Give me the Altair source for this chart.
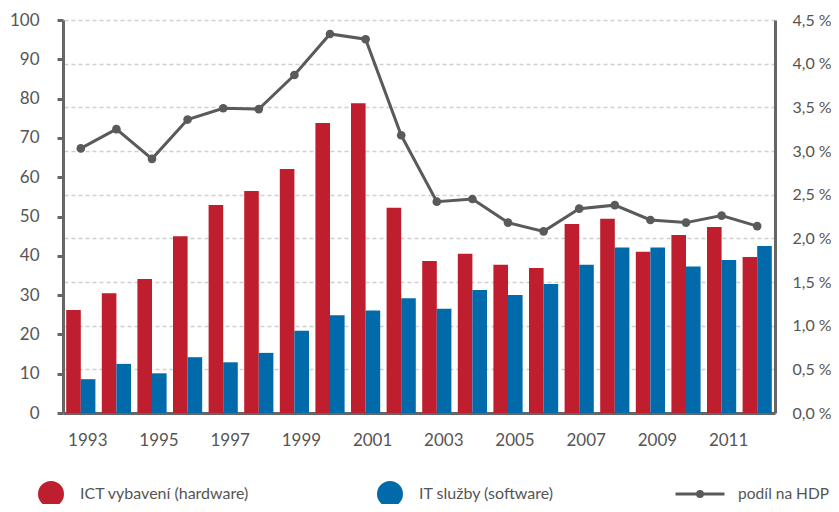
import altair as alt
import pandas as pd

years = list(range(1993, 2013))
hardware = [26.2, 30.5, 34.1, 45.0, 52.9, 56.5, 62.1, 73.8, 78.8, 52.2,
            38.7, 40.5, 37.7, 36.9, 48.1, 49.4, 41.0, 45.3, 47.3, 39.7]
software = [8.6, 12.5, 10.1, 14.2, 12.9, 15.3, 20.9, 24.9, 26.1, 29.2,
            26.5, 31.3, 30.0, 32.8, 37.7, 42.1, 42.1, 37.3, 38.9, 42.5]
share = [3.03, 3.25, 2.91, 3.36, 3.49, 3.48, 3.87, 4.34, 4.28, 3.18,
         2.42, 2.45, 2.18, 2.08, 2.34, 2.38, 2.21, 2.18, 2.26, 2.14]

series_names = ["ICT vybavení (hardware)", "IT služby (software)"]
line_name = "podíl na HDP"
left_ticks = list(range(0, 101, 10))
right_ticks = [0, 0.5, 1.0, 1.5, 2.0, 2.5, 3.0, 3.5, 4.0, 4.5]
x_label_years = list(range(1993, 2013, 2))

RED = "#BE1E2D"
BLUE = "#006AAB"
GRAY = "#5a5a5a"
AXIS = "#666666"
TEXT = "#555555"
FONT = "Lato"

bars_df = pd.DataFrame(
    [{"rok": y, "serie": series_names[0], "hodnota": h} for y, h in zip(years, hardware)]
    + [{"rok": y, "serie": series_names[1], "hodnota": s} for y, s in zip(years, software)]
)
line_df = pd.DataFrame({"rok": years, "podil": share, "serie": [line_name] * len(years)})

x_enc = alt.X(
    "rok:O",
    scale=alt.Scale(paddingInner=0.18, paddingOuter=0.09),
    axis=alt.Axis(
        values=x_label_years, labelAngle=0, ticks=False, title=None,
        domainColor=AXIS, domainWidth=3, labelOffset=7, labelPadding=19,
        labelFontSize=17, labelColor=TEXT, labelFont=FONT,
    ),
)

bars = alt.Chart(bars_df).mark_bar().encode(
    x=x_enc,
    xOffset=alt.XOffset("serie:N", sort=series_names,
                        scale=alt.Scale(domain=series_names, paddingInner=0, paddingOuter=0)),
    y=alt.Y(
        "hodnota:Q",
        scale=alt.Scale(domain=[0, 100], nice=False),
        axis=alt.Axis(
            values=left_ticks, grid=False, title=None, tickSize=6, tickWidth=3,
            tickColor=AXIS, domainColor=AXIS, domainWidth=3, labelPadding=18,
            labelFontSize=17, labelColor=TEXT, labelFont=FONT,
        ),
    ),
    color=alt.Color(
        "serie:N",
        sort=series_names,
        scale=alt.Scale(domain=series_names, range=[RED, BLUE]),
        legend=alt.Legend(
            orient="none", legendX=-25, legendY=461, direction="horizontal",
            title=None, symbolType="circle", symbolSize=676, symbolStrokeWidth=0,
            labelFontSize=16, labelColor=TEXT, labelFont=FONT, labelOffset=16,
            columnPadding=127, labelLimit=400,
        ),
    ),
)

line = alt.Chart(line_df).mark_line(strokeWidth=3).encode(
    x=alt.X("rok:O"),
    y=alt.Y(
        "podil:Q",
        scale=alt.Scale(domain=[0, 4.5], nice=False),
        axis=alt.Axis(
            orient="right", values=right_ticks, title=None, ticks=False,
            domainColor=AXIS, domainWidth=3, labelPadding=17,
            labelExpr="replace(format(datum.value, '.1f'), '.', ',') + ' %'",
            labelFontSize=16, labelColor=TEXT, labelFont=FONT,
            grid=True, gridDash=[4, 3], gridColor="#d0d0d0", gridWidth=1.5,
        ),
    ),
    stroke=alt.Stroke(
        "serie:N",
        scale=alt.Scale(domain=[line_name], range=[GRAY]),
        legend=alt.Legend(
            orient="none", legendX=611, legendY=448, title=None,
            symbolType="M-1,0L1,0M-0.1,0A0.1,0.1,0,1,1,0.1,0A0.1,0.1,0,1,1,-0.1,0Z",
            symbolSize=2401, symbolStrokeWidth=3, symbolFillColor=GRAY,
            symbolStrokeColor=GRAY,
            labelFontSize=15.5, labelColor=TEXT, labelFont=FONT, labelOffset=12,
            labelLimit=300,
        ),
    ),
)

points = alt.Chart(line_df).mark_point(filled=True, size=75, color=GRAY, opacity=1).encode(
    x=alt.X("rok:O"),
    y=alt.Y("podil:Q", scale=alt.Scale(domain=[0, 4.5], nice=False), axis=None),
)

chart = alt.layer(bars, line, points).resolve_scale(y="independent").properties(
    width=712, height=393, autosize="none",
    padding={"left": 55, "top": 12, "right": 56, "bottom": 91},
).configure_view(stroke=None)

chart.save("out.html", embed_options={"renderer": "svg", "actions": False})
